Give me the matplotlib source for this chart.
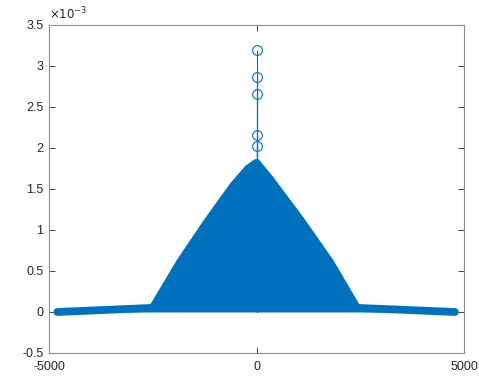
import matplotlib.pyplot as plt
import matplotlib.ticker as mticker

plt.rcParams['font.family'] = ['Liberation Sans', 'DejaVu Sans']
plt.rcParams['axes.unicode_minus'] = False

# outline of the dense stem mass (marker centres)
env_x = [-4800, -2500, -1840, -1200, -560, -200, 0, 325, 1050, 1770, 2420, 4780]
env_y = [0.0, 0.05e-3, 0.61e-3, 1.09e-3, 1.54e-3, 1.75e-3, 1.82e-3,
         1.62e-3, 1.13e-3, 0.61e-3, 0.05e-3, 0.0]

# isolated stems sticking out above the peak
spike_x = [0, 0, 0, 0, 0]
spike_y = [3.19e-3, 2.86e-3, 2.66e-3, 2.16e-3, 2.02e-3]

xticks = [-5000, 0, 5000]
yticks = [-0.5e-3, 0, 0.5e-3, 1e-3, 1.5e-3, 2e-3, 2.5e-3, 3e-3, 3.5e-3]

blue = '#0072BD'

fig = plt.figure(figsize=(4.79, 3.77), dpi=100)
ax = fig.add_axes([0.1023, 0.0637, 0.8664, 0.870])

# stems for the outliers
ax.vlines(spike_x, 0, spike_y, color=blue, lw=0.8)
ax.plot(spike_x, spike_y, 'o', ms=7, mfc='none', mec=blue, mew=0.8)

# solid mass of stems
ax.fill_between(env_x, 0, env_y, color=blue, lw=0)
ax.plot(env_x, env_y, '-', color=blue, lw=5.6,
        solid_joinstyle='round', solid_capstyle='round')

ax.set_xlim(-5000, 5000)
ax.set_ylim(-0.5e-3, 3.5e-3)
ax.set_xticks(xticks)
ax.set_yticks(yticks)
ax.yaxis.set_major_formatter(mticker.FuncFormatter(lambda v, p: '%g' % round(v * 1e3, 3)))
ax.tick_params(direction='in', length=4, width=0.6, colors='#262626',
               labelsize=9, top=True, right=True)
ax.tick_params(axis='x', pad=5.5)
ax.tick_params(axis='y', pad=4)
for s in ax.spines.values():
    s.set_color('#8c8c8c')
    s.set_linewidth(0.8)

ax.text(0.0, 1.008, r'$\times 10^{-3}$', transform=ax.transAxes,
        fontsize=8.5, color='#262626', ha='left', va='bottom')

fig.savefig('out.png', dpi=100)
